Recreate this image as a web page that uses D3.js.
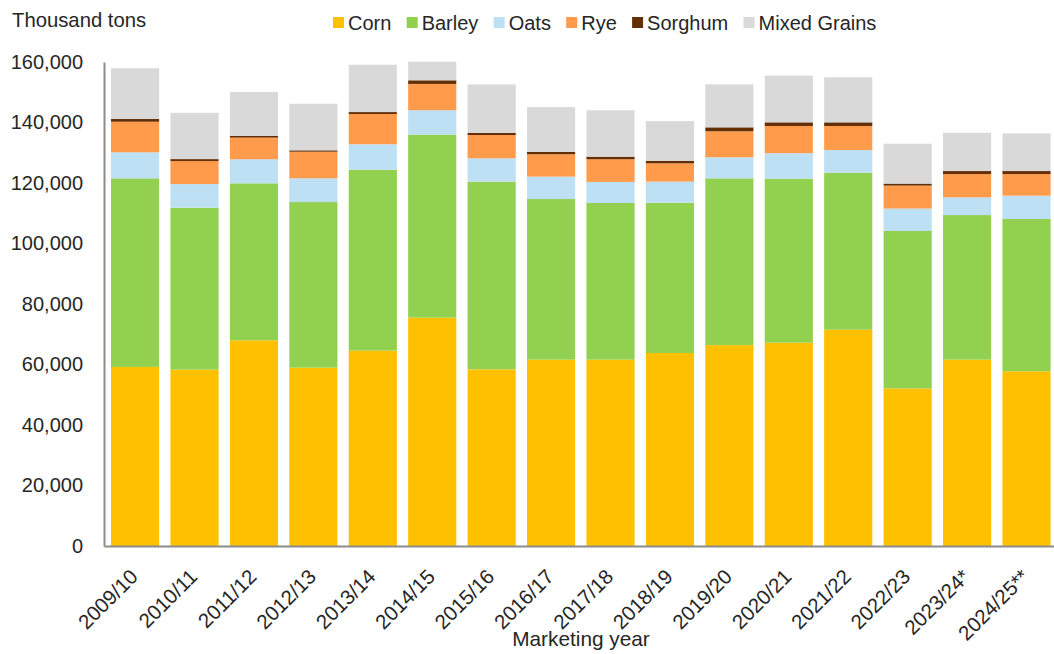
<!DOCTYPE html>
<html>
<head>
<meta charset="utf-8">
<script src="https://cdn.jsdelivr.net/npm/d3@7"></script>
<style>
    body { margin: 0; background: #fff; }
    text { font-family: "Liberation Sans", Arial, sans-serif; fill: #262626; }
</style>
</head>
<body>
<div id="chart"></div>
<script>
const width = 1054,
    height = 654;

// marketing years
var years = ["2009/10", "2010/11", "2011/12", "2012/13", "2013/14", "2014/15", "2015/16", "2016/17",
    "2017/18", "2018/19", "2019/20", "2020/21", "2021/22", "2022/23", "2023/24*", "2024/25**"];

// thousand tons
var corn = [59200, 58300, 68000, 58950, 64600, 75500, 58400, 61600, 61600, 63800, 66400, 67200, 71500, 52100, 61600, 57750];
var barley = [62350, 53550, 51900, 54750, 59800, 60500, 62050, 53100, 51800, 49700, 55150, 54250, 51900, 52050, 47800, 50350];
var oats = [8600, 7800, 7950, 7850, 8400, 8050, 7700, 7400, 6950, 6950, 6950, 8400, 7500, 7400, 5850, 7700];
var rye = [10100, 7600, 7150, 8800, 10000, 8700, 7700, 7400, 7500, 6050, 8600, 9000, 7950, 7600, 7700, 7150];
var sorghum = [900, 650, 550, 450, 650, 1200, 750, 750, 850, 850, 1300, 1200, 1200, 650, 1000, 1000];
var mixed = [16750, 15300, 14550, 15400, 15650, 6150, 16000, 14850, 15350, 13100, 14200, 15450, 14900, 13200, 12650, 12450];

var seriesNames = ["Corn", "Barley", "Oats", "Rye", "Sorghum", "Mixed Grains"];
var seriesColors = ["#ffc000", "#92d050", "#bde0f5", "#ff9b4a", "#652f06", "#d9d9d9"];
var yTicks = [0, 20000, 40000, 60000, 80000, 100000, 120000, 140000, 160000];

var rows = years.map(function (y, i) {
    return {
        year: y,
        "Corn": corn[i],
        "Barley": barley[i],
        "Oats": oats[i],
        "Rye": rye[i],
        "Sorghum": sorghum[i],
        "Mixed Grains": mixed[i]
    };
});

var svg = d3.select("#chart")
    .append("svg")
    .attr("width", width)
    .attr("height", height);

var x = d3.scaleBand()
    .domain(years)
    .range([104, 1057.6])
    .paddingInner(0.19)
    .paddingOuter(0.118);

var y = d3.scaleLinear()
    .domain([0, 160000])
    .range([546, 62]);

var color = d3.scaleOrdinal()
    .domain(seriesNames)
    .range(seriesColors);

var stacked = d3.stack().keys(seriesNames)(rows);

svg.append("g")
    .selectAll("g")
    .data(stacked)
    .enter().append("g")
    .attr("fill", function (d) { return color(d.key); })
    .selectAll("rect")
    .data(function (d) { return d; })
    .enter().append("rect")
    .attr("x", function (d) { return x(d.data.year); })
    .attr("y", function (d) { return y(d[1]); })
    .attr("width", x.bandwidth())
    .attr("height", function (d) { return y(d[0]) - y(d[1]); });

// y axis
var yAxis = svg.append("g")
    .attr("transform", "translate(104,0)")
    .call(d3.axisLeft(y).tickValues(yTicks).tickFormat(d3.format(",")).tickSize(0).tickPadding(21));
yAxis.select(".domain").attr("stroke", "#8c8c8c").attr("stroke-width", 2);
yAxis.selectAll("text").style("font-size", "20px").attr("fill", "#262626");

// x axis
var xAxis = svg.append("g")
    .attr("transform", "translate(0,546)")
    .call(d3.axisBottom(x).tickSize(0).tickSizeOuter(0));
xAxis.select(".domain").attr("stroke", "#8c8c8c").attr("stroke-width", 2);
xAxis.selectAll("text")
    .style("font-size", "20.5px")
    .attr("fill", "#262626")
    .attr("text-anchor", "end")
    .attr("x", 0)
    .attr("y", 0)
    .attr("dy", 0)
    .attr("transform", "translate(4,32) rotate(-45)");

svg.append("text")
    .attr("x", 12)
    .attr("y", 27)
    .style("font-size", "20.3px")
    .text("Thousand tons");

svg.append("text")
    .attr("x", 581)
    .attr("y", 646)
    .attr("text-anchor", "middle")
    .style("font-size", "20.8px")
    .text("Marketing year");

// legend
var legend = svg.append("g").attr("transform", "translate(333,23)");
var lx = 0;
seriesNames.forEach(function (name) {
    var item = legend.append("g").attr("transform", "translate(" + lx + ",0)");
    item.append("rect")
        .attr("x", 0)
        .attr("y", -6)
        .attr("width", 11)
        .attr("height", 11)
        .attr("fill", color(name));
    var t = item.append("text")
        .attr("x", 15)
        .attr("dy", "0.35em")
        .style("font-size", "20px")
        .text(name);
    lx += 15 + t.node().getComputedTextLength() + 15.3;
});
</script>
</body>
</html>
